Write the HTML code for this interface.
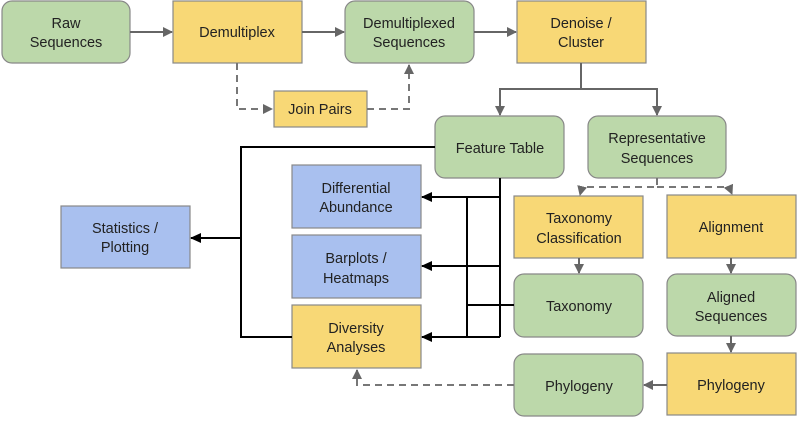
<!DOCTYPE html>
<html><head><style>
body{margin:0;background:#fff;width:797px;height:418px;overflow:hidden}
svg text{font-family:"Liberation Sans",sans-serif;font-size:14.5px;fill:#222;text-anchor:middle}
</style></head><body>
<svg width="797" height="418" viewBox="0 0 797 418">
<defs>
<marker id="g" markerWidth="10" markerHeight="10" refX="9" refY="5" orient="auto" markerUnits="userSpaceOnUse"><path d="M0,0 L10,5 L0,10 Z" fill="#666"/></marker>
<marker id="b" markerWidth="11" markerHeight="10" refX="10" refY="5" orient="auto" markerUnits="userSpaceOnUse"><path d="M0,0 L11,5 L0,10 Z" fill="#000"/></marker>
</defs>
<g stroke="#888" stroke-width="1.2">
<rect x="2" y="1" width="128" height="62" rx="10" fill="#bcd8aa"/>
<rect x="173" y="1" width="129" height="62" fill="#f8d876"/>
<rect x="345" y="1" width="129" height="62" rx="10" fill="#bcd8aa"/>
<rect x="517" y="1" width="129" height="62" fill="#f8d876"/>
<rect x="274" y="91" width="93" height="36" fill="#f8d876"/>
<rect x="435" y="116" width="129" height="62" rx="10" fill="#bcd8aa"/>
<rect x="588" y="116" width="138" height="62" rx="10" fill="#bcd8aa"/>
<rect x="514" y="196" width="129" height="62" fill="#f8d876"/>
<rect x="667" y="195" width="129" height="63" fill="#f8d876"/>
<rect x="514" y="274" width="129" height="63" rx="10" fill="#bcd8aa"/>
<rect x="667" y="274" width="129" height="62" rx="10" fill="#bcd8aa"/>
<rect x="514" y="354" width="129" height="62" rx="10" fill="#bcd8aa"/>
<rect x="667" y="353" width="129" height="62" fill="#f8d876"/>
<rect x="292" y="165" width="129" height="63" fill="#a9c0ef"/>
<rect x="292" y="235" width="129" height="63" fill="#a9c0ef"/>
<rect x="292" y="305" width="129" height="63" fill="#f8d876"/>
<rect x="61" y="206" width="129" height="62" fill="#a9c0ef"/>
</g>
<g fill="none" stroke="#666" stroke-width="2">
<line x1="130" y1="32" x2="172" y2="32" marker-end="url(#g)"/>
<line x1="302" y1="32" x2="344" y2="32" marker-end="url(#g)"/>
<line x1="474" y1="32" x2="516" y2="32" marker-end="url(#g)"/>
<path d="M581 63 V89 M500 89 H657"/>
<line x1="500" y1="88" x2="500" y2="115" marker-end="url(#g)"/>
<line x1="657" y1="88" x2="657" y2="115" marker-end="url(#g)"/>
<line x1="579" y1="258" x2="579" y2="273" marker-end="url(#g)"/>
<line x1="731" y1="258" x2="731" y2="273" marker-end="url(#g)"/>
<line x1="731" y1="336" x2="731" y2="352" marker-end="url(#g)"/>
<line x1="667" y1="385" x2="644" y2="385" marker-end="url(#g)"/>
</g>
<g fill="none" stroke="#777" stroke-width="2" stroke-dasharray="7,5">
<path d="M237 63 V109 H272" marker-end="url(#g)"/>
<path d="M367 109 H409 V65" marker-end="url(#g)"/>
<path d="M657 178 V187 H582 L580 195" marker-end="url(#g)"/>
<path d="M657 187 H729 L732 194" marker-end="url(#g)"/>
<path d="M514 385 H357 V370" marker-end="url(#g)"/>
</g>
<g fill="none" stroke="#000" stroke-width="2">
<path d="M435 147 H241 V337 H292"/>
<line x1="241" y1="238" x2="191" y2="238" marker-end="url(#b)"/>
<path d="M500 178 V337 M467 197 V337 M514 305 H467"/>
<line x1="500" y1="197" x2="422" y2="197" marker-end="url(#b)"/>
<line x1="500" y1="266" x2="422" y2="266" marker-end="url(#b)"/>
<line x1="500" y1="337" x2="422" y2="337" marker-end="url(#b)"/>
</g>
<text x="66" y="28">Raw</text><text x="66" y="47">Sequences</text>
<text x="237" y="37">Demultiplex</text>
<text x="409" y="28">Demultiplexed</text><text x="409" y="47">Sequences</text>
<text x="581" y="28">Denoise /</text><text x="581" y="47">Cluster</text>
<text x="320" y="114">Join Pairs</text>
<text x="500" y="153">Feature Table</text>
<text x="657" y="143">Representative</text><text x="657" y="163">Sequences</text>
<text x="579" y="223">Taxonomy</text><text x="579" y="243">Classification</text>
<text x="731" y="232">Alignment</text>
<text x="579" y="311">Taxonomy</text>
<text x="731" y="302">Aligned</text><text x="731" y="321">Sequences</text>
<text x="579" y="391">Phylogeny</text>
<text x="731" y="390">Phylogeny</text>
<text x="356" y="193">Differential</text><text x="356" y="212">Abundance</text>
<text x="356" y="263">Barplots /</text><text x="356" y="283">Heatmaps</text>
<text x="356" y="333">Diversity</text><text x="356" y="352">Analyses</text>
<text x="125" y="233">Statistics /</text><text x="125" y="252">Plotting</text>
</svg>
</body></html>
